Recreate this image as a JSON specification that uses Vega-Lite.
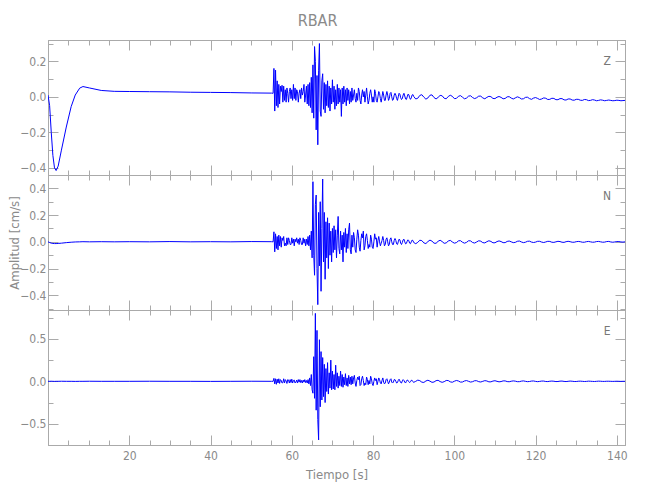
{
"$schema": "https://vega.github.io/schema/vega-lite/v6.json",
"background": "white",
"padding": {"left": 7, "top": 13, "right": 5, "bottom": 5},
"bounds": "flush",
"spacing": 0,
"title": {"text": "RBAR", "fontSize": 16, "offset": 10, "anchor": "middle", "color": "#8a8a8a", "fontWeight": "normal", "font": "DejaVu Sans Condensed, Liberation Sans, sans-serif"},
"datasets": {"seis": [
{"t":0,"z":0.01,"n":0,"e":0},
{"t":0.4,"z":-0.05,"n":-0.005,"e":0},
{"t":0.8,"z":-0.2,"n":-0.01,"e":0.001},
{"t":1.2,"z":-0.33,"n":-0.012,"e":0},
{"t":1.6,"z":-0.4,"n":-0.013,"e":-0.001},
{"t":2.0,"z":-0.415,"n":-0.013,"e":0},
{"t":2.5,"z":-0.39,"n":-0.012,"e":0},
{"t":3.3,"z":-0.3,"n":-0.01,"e":0.001},
{"t":4.5,"z":-0.17,"n":-0.006,"e":0},
{"t":5.7,"z":-0.055,"n":-0.003,"e":0},
{"t":6.7,"z":0.01,"n":-0.001,"e":-0.001},
{"t":7.8,"z":0.049,"n":0,"e":0},
{"t":8.6,"z":0.058,"n":0.001,"e":0},
{"t":10.2,"z":0.05,"n":0,"e":0.001},
{"t":13.1,"z":0.036,"n":0.001,"e":0},
{"t":16.3,"z":0.031,"n":0,"e":0},
{"t":20,"z":0.03,"n":0.001,"e":0},
{"t":25,"z":0.029,"n":0,"e":0.001},
{"t":30,"z":0.028,"n":0.002,"e":0},
{"t":35,"z":0.026,"n":0,"e":0},
{"t":40,"z":0.025,"n":0.001,"e":-0.001},
{"t":45,"z":0.024,"n":0,"e":0},
{"t":50,"z":0.022,"n":0.002,"e":0.001},
{"t":55,"z":0.021,"n":0.001,"e":0},
{"t":55.4,"z":0.02,"n":0,"e":0},
{"t":55.6,"z":0.16,"n":0.075,"e":0.035},
{"t":55.8,"z":-0.08,"n":-0.075,"e":-0.03},
{"t":56.0,"z":0.15,"n":0.06,"e":0.03},
{"t":56.2,"z":-0.05,"n":-0.05,"e":-0.035},
{"t":56.4,"z":0.09,"n":0.04,"e":0.025},
{"t":56.6,"z":-0.06,"n":-0.06,"e":-0.02},
{"t":56.8,"z":0.07,"n":0.05,"e":0.03},
{"t":57.0,"z":-0.04,"n":-0.03,"e":-0.025},
{"t":57.2,"z":0.06,"n":0.04,"e":0.02},
{"t":57.4,"z":0.03,"n":-0.04,"e":0.01},
{"t":57.6,"z":0.065,"n":0.03,"e":-0.02},
{"t":57.8,"z":-0.03,"n":0.01,"e":-0.015},
{"t":58.0,"z":0.06,"n":0.04,"e":0.03},
{"t":58.2,"z":-0.02,"n":-0.03,"e":-0.02},
{"t":58.4,"z":0.04,"n":-0.01,"e":0.02},
{"t":58.6,"z":-0.03,"n":-0.03,"e":0.005},
{"t":58.8,"z":0.05,"n":0.03,"e":-0.025},
{"t":59.0,"z":0.02,"n":-0.02,"e":0.02},
{"t":59.2,"z":-0.03,"n":0.03,"e":0.015},
{"t":59.4,"z":0.03,"n":0.01,"e":-0.02},
{"t":59.6,"z":0.05,"n":-0.02,"e":0.02},
{"t":59.8,"z":-0.01,"n":-0.02,"e":-0.015},
{"t":60.0,"z":0.04,"n":0.03,"e":0.025},
{"t":60.2,"z":-0.02,"n":-0.01,"e":-0.02},
{"t":60.4,"z":0.07,"n":0.02,"e":0.01},
{"t":60.6,"z":-0.01,"n":-0.03,"e":0.015},
{"t":60.8,"z":0.05,"n":0.02,"e":-0.02},
{"t":61.0,"z":-0.02,"n":0.0,"e":-0.01},
{"t":61.2,"z":0.04,"n":0.03,"e":0.015},
{"t":61.4,"z":0.03,"n":-0.01,"e":-0.02},
{"t":61.6,"z":-0.03,"n":0.02,"e":0.02},
{"t":61.8,"z":0.02,"n":-0.02,"e":-0.01},
{"t":62.0,"z":0.04,"n":0.03,"e":0.02},
{"t":62.2,"z":-0.01,"n":0.01,"e":-0.015},
{"t":62.4,"z":0.05,"n":-0.02,"e":0.01},
{"t":62.6,"z":0.01,"n":-0.02,"e":-0.02},
{"t":62.8,"z":0.03,"n":0.03,"e":0.015},
{"t":63.0,"z":0.07,"n":-0.01,"e":-0.01},
{"t":63.2,"z":-0.03,"n":0.02,"e":0.02},
{"t":63.4,"z":0.01,"n":-0.03,"e":-0.015},
{"t":63.6,"z":0.06,"n":0.02,"e":0.01},
{"t":63.8,"z":-0.04,"n":-0.02,"e":-0.02},
{"t":64.0,"z":0.07,"n":0.04,"e":0.02},
{"t":64.2,"z":-0.05,"n":-0.03,"e":-0.03},
{"t":64.4,"z":0.08,"n":0.05,"e":0.04},
{"t":64.6,"z":-0.06,"n":-0.06,"e":-0.05},
{"t":64.8,"z":0.11,"n":0.08,"e":0.08},
{"t":65.0,"z":-0.09,"n":-0.12,"e":-0.1},
{"t":65.2,"z":0.18,"n":0.45,"e":-0.14},
{"t":65.4,"z":-0.12,"n":-0.1,"e":0.29},
{"t":65.6,"z":0.283,"n":-0.25,"e":-0.2},
{"t":65.8,"z":0.2,"n":0.28,"e":0.8},
{"t":66.0,"z":-0.186,"n":0.35,"e":-0.34},
{"t":66.2,"z":0.12,"n":-0.2,"e":0.6},
{"t":66.4,"z":-0.27,"n":-0.47,"e":-0.45},
{"t":66.6,"z":0.15,"n":0.22,"e":-0.69},
{"t":66.8,"z":0.3,"n":-0.18,"e":0.49},
{"t":67.0,"z":-0.08,"n":0.3,"e":-0.3},
{"t":67.2,"z":-0.11,"n":-0.37,"e":0.35},
{"t":67.4,"z":0.09,"n":0.1,"e":-0.22},
{"t":67.6,"z":0.13,"n":0.47,"e":0.28},
{"t":67.8,"z":-0.07,"n":-0.15,"e":-0.18},
{"t":68.0,"z":0.08,"n":0.22,"e":0.2},
{"t":68.2,"z":-0.09,"n":-0.28,"e":-0.25},
{"t":68.4,"z":0.07,"n":0.15,"e":0.15},
{"t":68.6,"z":-0.05,"n":-0.12,"e":-0.12},
{"t":68.8,"z":0.09,"n":0.18,"e":0.22},
{"t":69.0,"z":-0.06,"n":-0.2,"e":-0.15},
{"t":69.2,"z":0.06,"n":0.14,"e":0.1},
{"t":69.4,"z":-0.08,"n":-0.1,"e":-0.08},
{"t":69.6,"z":0.05,"n":0.08,"e":0.25},
{"t":69.8,"z":-0.04,"n":-0.15,"e":-0.1},
{"t":70.0,"z":0.096,"n":0.1,"e":0.12},
{"t":70.2,"z":-0.03,"n":-0.08,"e":-0.09},
{"t":70.4,"z":0.06,"n":0.12,"e":0.08},
{"t":70.6,"z":-0.07,"n":-0.06,"e":-0.1},
{"t":70.8,"z":0.04,"n":0.09,"e":0.19},
{"t":71.0,"z":-0.05,"n":-0.12,"e":-0.06},
{"t":71.2,"z":0.07,"n":0.05,"e":0.1},
{"t":71.4,"z":-0.04,"n":0.19,"e":-0.08},
{"t":71.6,"z":0.05,"n":-0.05,"e":0.06},
{"t":71.8,"z":-0.03,"n":-0.09,"e":-0.05},
{"t":72.0,"z":0.04,"n":0.08,"e":0.12},
{"t":72.2,"z":-0.11,"n":-0.06,"e":-0.06},
{"t":72.4,"z":0.05,"n":0.05,"e":0.08},
{"t":72.6,"z":-0.04,"n":-0.15,"e":-0.07},
{"t":72.8,"z":0.06,"n":0.07,"e":0.05},
{"t":73.0,"z":-0.03,"n":-0.04,"e":-0.04},
{"t":73.2,"z":0.04,"n":0.1,"e":0.09},
{"t":73.4,"z":-0.05,"n":-0.08,"e":-0.05},
{"t":73.6,"z":0.05,"n":0.06,"e":0.04},
{"t":73.8,"z":-0.02,"n":-0.05,"e":-0.06},
{"t":74.0,"z":0.04,"n":0.09,"e":0.07},
{"t":74.2,"z":-0.04,"n":0.14,"e":-0.03},
{"t":74.4,"z":0.03,"n":-0.06,"e":0.05},
{"t":74.6,"z":-0.03,"n":-0.09,"e":-0.04},
{"t":74.8,"z":0.05,"n":0.05,"e":0.06},
{"t":75.0,"z":-0.02,"n":-0.04,"e":-0.03},
{"t":75.2,"z":0.01,"n":0.07,"e":0.04},
{"t":75.4,"z":0.04,"n":0.03,"e":0.07},
{"t":75.6,"z":-0.01,"n":-0.06,"e":-0.02},
{"t":75.8,"z":-0.03,"n":-0.08,"e":-0.06},
{"t":76.0,"z":0.02,"n":0.02,"e":0.01},
{"t":76.2,"z":-0.02,"n":0.09,"e":0.05},
{"t":76.4,"z":0.05,"n":0.05,"e":0.02},
{"t":76.6,"z":0.03,"n":-0.04,"e":0.06},
{"t":76.8,"z":-0.02,"n":-0.07,"e":-0.05},
{"t":77.0,"z":-0.04,"n":0.01,"e":-0.04},
{"t":77.2,"z":0.01,"n":0.06,"e":0.03},
{"t":77.4,"z":0.04,"n":0.03,"e":0.06},
{"t":77.6,"z":0.0,"n":0.08,"e":0.01},
{"t":77.8,"z":0.03,"n":-0.06,"e":-0.05},
{"t":78.0,"z":-0.03,"n":-0.03,"e":-0.02},
{"t":78.2,"z":0.01,"n":0.04,"e":-0.04},
{"t":78.4,"z":0.05,"n":0.06,"e":0.05},
{"t":78.6,"z":0.0,"n":0.01,"e":0.02},
{"t":78.8,"z":-0.04,"n":-0.05,"e":-0.04},
{"t":79.0,"z":-0.02,"n":-0.02,"e":0.01},
{"t":79.2,"z":0.02,"n":-0.04,"e":-0.03},
{"t":79.4,"z":0.04,"n":0.05,"e":0.06},
{"t":79.6,"z":0.01,"n":0.02,"e":0.03},
{"t":79.8,"z":-0.03,"n":-0.04,"e":-0.03},
{"t":80.0,"z":0.0,"n":-0.05,"e":-0.05},
{"t":80.2,"z":-0.03,"n":0.0,"e":0.0},
{"t":80.4,"z":0.04,"n":0.06,"e":0.04},
{"t":80.6,"z":0.02,"n":0.02,"e":0.01},
{"t":80.8,"z":-0.02,"n":0.03,"e":0.03},
{"t":81.0,"z":-0.03,"n":-0.04,"e":-0.04},
{"t":81.2,"z":0.0,"n":0.01,"e":0.0},
{"t":81.4,"z":0.03,"n":0.04,"e":0.04},
{"t":81.6,"z":0.02,"n":0.0,"e":0.02},
{"t":81.8,"z":-0.01,"n":-0.03,"e":-0.02},
{"t":82.0,"z":-0.03,"n":-0.01,"e":-0.03},
{"t":82.2,"z":0.0,"n":0.01,"e":0.01},
{"t":82.4,"z":0.03,"n":0.04,"e":0.04},
{"t":82.6,"z":0.01,"n":0.01,"e":-0.01},
{"t":82.8,"z":-0.02,"n":-0.03,"e":-0.03},
{"t":83.0,"z":-0.02,"n":-0.02,"e":-0.02},
{"t":83.2,"z":0.01,"n":0.02,"e":0.02},
{"t":83.4,"z":0.03,"n":0.03,"e":0.03},
{"t":83.6,"z":0.01,"n":0.0,"e":0.0},
{"t":83.8,"z":-0.02,"n":-0.03,"e":-0.03},
{"t":84.0,"z":-0.01,"n":-0.02,"e":-0.01},
{"t":84.2,"z":0.02,"n":0.02,"e":0.02},
{"t":84.4,"z":0.025,"n":0.03,"e":0.03},
{"t":84.6,"z":0.0,"n":0.0,"e":-0.01},
{"t":84.8,"z":-0.02,"n":-0.02,"e":-0.02},
{"t":85.0,"z":-0.015,"n":-0.02,"e":-0.01},
{"t":85.2,"z":0.01,"n":0.01,"e":0.02},
{"t":85.4,"z":0.02,"n":0.025,"e":0.02},
{"t":85.6,"z":0.01,"n":0.01,"e":0.0},
{"t":85.8,"z":-0.01,"n":-0.015,"e":-0.02},
{"t":86.0,"z":-0.02,"n":-0.02,"e":-0.015},
{"t":86.2,"z":0.0,"n":0.0,"e":0.01},
{"t":86.4,"z":0.02,"n":0.02,"e":0.025},
{"t":86.6,"z":0.015,"n":0.015,"e":0.005},
{"t":86.8,"z":-0.005,"n":-0.01,"e":-0.015},
{"t":87.0,"z":-0.015,"n":-0.02,"e":-0.02},
{"t":87.2,"z":-0.01,"n":-0.005,"e":0.005},
{"t":87.4,"z":0.01,"n":0.015,"e":0.02},
{"t":87.6,"z":0.02,"n":0.02,"e":0.01},
{"t":87.8,"z":0.005,"n":0.0,"e":-0.01},
{"t":88.0,"z":-0.012,"n":-0.015,"e":-0.02},
{"t":88.2,"z":-0.015,"n":-0.012,"e":0.0},
{"t":88.4,"z":0.0,"n":0.005,"e":0.015},
{"t":88.6,"z":0.015,"n":0.015,"e":0.012},
{"t":88.8,"z":0.012,"n":0.008,"e":-0.005},
{"t":89.0,"z":-0.005,"n":-0.01,"e":-0.015},
{"t":89.2,"z":-0.014,"n":-0.014,"e":-0.005},
{"t":89.4,"z":-0.006,"n":0.0,"e":0.012},
{"t":89.6,"z":0.01,"n":0.013,"e":0.012},
{"t":89.8,"z":0.013,"n":0.01,"e":-0.004},
{"t":90.0,"z":0.002,"n":-0.005,"e":-0.012},
{"t":90.5,"z":-0.012,"n":-0.014,"e":0.0},
{"t":91.0,"z":-0.008,"n":-0.004,"e":0.014},
{"t":91.5,"z":0.008,"n":0.012,"e":0.008},
{"t":92.0,"z":0.012,"n":0.009,"e":-0.01},
{"t":92.5,"z":-0.002,"n":-0.008,"e":-0.013},
{"t":93.0,"z":-0.013,"n":-0.013,"e":0.004},
{"t":93.5,"z":-0.006,"n":0.002,"e":0.013},
{"t":94.0,"z":0.009,"n":0.013,"e":0.002},
{"t":94.5,"z":0.011,"n":0.005,"e":-0.012},
{"t":95.0,"z":-0.004,"n":-0.01,"e":-0.008},
{"t":95.5,"z":-0.012,"n":-0.011,"e":0.008},
{"t":96.0,"z":-0.003,"n":0.004,"e":0.012},
{"t":96.5,"z":0.008,"n":0.012,"e":-0.003},
{"t":97.0,"z":0.006,"n":0.002,"e":-0.012},
{"t":97.5,"z":-0.008,"n":-0.011,"e":-0.004},
{"t":98.0,"z":-0.011,"n":-0.008,"e":0.01},
{"t":98.5,"z":0.002,"n":0.006,"e":0.009},
{"t":99.0,"z":0.009,"n":0.011,"e":-0.006},
{"t":99.5,"z":0.003,"n":-0.001,"e":-0.011},
{"t":100.0,"z":-0.01,"n":-0.01,"e":0.001},
{"t":100.5,"z":-0.009,"n":-0.006,"e":0.01},
{"t":101.0,"z":0.003,"n":0.007,"e":0.004},
{"t":101.5,"z":0.007,"n":0.009,"e":-0.009},
{"t":102.0,"z":-0.002,"n":-0.003,"e":-0.008},
{"t":102.5,"z":-0.011,"n":-0.01,"e":0.004},
{"t":103.0,"z":-0.007,"n":-0.004,"e":0.009},
{"t":103.5,"z":0.004,"n":0.008,"e":0.0},
{"t":104.0,"z":0.006,"n":0.007,"e":-0.009},
{"t":104.5,"z":-0.004,"n":-0.005,"e":-0.004},
{"t":105.0,"z":-0.01,"n":-0.009,"e":0.007},
{"t":105.5,"z":-0.005,"n":-0.001,"e":0.007},
{"t":106.0,"z":0.004,"n":0.008,"e":-0.004},
{"t":106.5,"z":0.004,"n":0.005,"e":-0.008},
{"t":107.0,"z":-0.006,"n":-0.006,"e":0.0},
{"t":107.5,"z":-0.011,"n":-0.008,"e":0.008},
{"t":108.0,"z":-0.003,"n":0.001,"e":0.004},
{"t":108.5,"z":0.003,"n":0.008,"e":-0.006},
{"t":109.0,"z":0.001,"n":0.003,"e":-0.006},
{"t":109.5,"z":-0.009,"n":-0.007,"e":0.003},
{"t":110.0,"z":-0.01,"n":-0.007,"e":0.007},
{"t":110.5,"z":-0.002,"n":0.002,"e":0.0},
{"t":111.0,"z":0.002,"n":0.007,"e":-0.006},
{"t":111.5,"z":-0.003,"n":0.002,"e":-0.003},
{"t":112.0,"z":-0.011,"n":-0.006,"e":0.005},
{"t":112.5,"z":-0.009,"n":-0.006,"e":0.005},
{"t":113.0,"z":0.0,"n":0.003,"e":-0.003},
{"t":113.5,"z":0.001,"n":0.006,"e":-0.005},
{"t":114.0,"z":-0.007,"n":0.0,"e":0.001},
{"t":114.5,"z":-0.012,"n":-0.006,"e":0.005},
{"t":115.0,"z":-0.006,"n":-0.004,"e":0.002},
{"t":115.5,"z":0.0,"n":0.004,"e":-0.004},
{"t":116.0,"z":-0.004,"n":0.006,"e":-0.004},
{"t":116.5,"z":-0.012,"n":-0.001,"e":0.002},
{"t":117.0,"z":-0.011,"n":-0.006,"e":0.005},
{"t":117.5,"z":-0.003,"n":-0.003,"e":0.0},
{"t":118.0,"z":-0.002,"n":0.004,"e":-0.004},
{"t":118.5,"z":-0.01,"n":0.005,"e":-0.002},
{"t":119.0,"z":-0.014,"n":-0.002,"e":0.003},
{"t":119.5,"z":-0.007,"n":-0.005,"e":0.004},
{"t":120.0,"z":-0.004,"n":-0.002,"e":-0.001},
{"t":120.5,"z":-0.009,"n":0.004,"e":-0.004},
{"t":121.0,"z":-0.015,"n":0.004,"e":-0.001},
{"t":121.5,"z":-0.012,"n":-0.002,"e":0.003},
{"t":122.0,"z":-0.006,"n":-0.005,"e":0.003},
{"t":122.5,"z":-0.008,"n":-0.001,"e":-0.002},
{"t":123.0,"z":-0.015,"n":0.004,"e":-0.003},
{"t":123.5,"z":-0.014,"n":0.003,"e":0.001},
{"t":124.0,"z":-0.008,"n":-0.003,"e":0.003},
{"t":124.5,"z":-0.009,"n":-0.004,"e":0.001},
{"t":125.0,"z":-0.016,"n":0.0,"e":-0.003},
{"t":125.5,"z":-0.016,"n":0.004,"e":-0.002},
{"t":126.0,"z":-0.01,"n":0.002,"e":0.002},
{"t":126.5,"z":-0.01,"n":-0.003,"e":0.003},
{"t":127.0,"z":-0.017,"n":-0.004,"e":-0.001},
{"t":127.5,"z":-0.018,"n":0.001,"e":-0.003},
{"t":128.0,"z":-0.012,"n":0.004,"e":0.0},
{"t":128.5,"z":-0.012,"n":0.001,"e":0.003},
{"t":129.0,"z":-0.018,"n":-0.003,"e":0.001},
{"t":129.5,"z":-0.019,"n":-0.003,"e":-0.002},
{"t":130.0,"z":-0.014,"n":0.001,"e":-0.002},
{"t":130.5,"z":-0.014,"n":0.003,"e":0.001},
{"t":131.0,"z":-0.019,"n":0.001,"e":0.002},
{"t":131.5,"z":-0.02,"n":-0.003,"e":0.0},
{"t":132.0,"z":-0.015,"n":-0.003,"e":-0.002},
{"t":132.5,"z":-0.016,"n":0.001,"e":-0.001},
{"t":133.0,"z":-0.021,"n":0.003,"e":0.002},
{"t":133.5,"z":-0.02,"n":0.0,"e":0.001},
{"t":134.0,"z":-0.016,"n":-0.003,"e":-0.001},
{"t":134.5,"z":-0.018,"n":-0.002,"e":-0.002},
{"t":135.0,"z":-0.022,"n":0.002,"e":0.0},
{"t":135.5,"z":-0.02,"n":0.003,"e":0.002},
{"t":136.0,"z":-0.017,"n":0.0,"e":0.001},
{"t":136.5,"z":-0.019,"n":-0.003,"e":-0.001},
{"t":137.0,"z":-0.022,"n":-0.002,"e":-0.001},
{"t":137.5,"z":-0.02,"n":0.002,"e":0.001},
{"t":138.0,"z":-0.018,"n":0.003,"e":0.001},
{"t":138.5,"z":-0.02,"n":-0.001,"e":0.0},
{"t":139.0,"z":-0.022,"n":-0.003,"e":-0.001},
{"t":139.5,"z":-0.021,"n":-0.001,"e":0.0},
{"t":140.0,"z":-0.019,"n":0.002,"e":0.001},
{"t":140.5,"z":-0.02,"n":0.002,"e":0.0},
{"t":141.0,"z":-0.022,"n":-0.001,"e":-0.001},
{"t":141.5,"z":-0.021,"n":-0.002,"e":0.0},
{"t":142.0,"z":-0.02,"n":0.0,"e":0.0}
]},
"vconcat": [
{
 "width": 577, "height": 135,
 "layer": [
  {"data": {"name": "seis"}, "mark": {"type": "line", "color": "#0000ff", "strokeWidth": 1, "clip": true},
   "encoding": {
    "x": {"field": "t", "type": "quantitative", "scale": {"domain": [0, 142], "nice": false, "zero": false},
          "axis": {"orient": "bottom", "values": [20,40,60,80,100,120,140], "tickSize": -10, "labels": false, "title": null}},
    "y": {"field": "z", "type": "quantitative", "scale": {"domain": [-0.44, 0.32], "nice": false, "zero": false},
          "axis": {"orient": "left", "values": [-0.4,-0.2,0,0.2], "format": ".1f", "tickSize": -10, "labelPadding": 12, "title": null}}
   }},
  {"data": {"values": [{"label": "Z"}]}, "mark": {"type": "text", "color": "#777777", "fontSize": 12, "font": "DejaVu Sans Condensed, Liberation Sans, sans-serif"},
   "encoding": {
    "text": {"field": "label"},
    "x": {"datum": 137.6, "type": "quantitative", "axis": {"orient": "top", "values": [20,40,60,80,100,120,140], "tickSize": -10, "labels": false, "title": null}},
    "y": {"datum": 0.2, "type": "quantitative", "axis": {"orient": "right", "values": [-0.4,-0.2,0,0.2], "tickSize": -10, "labels": false, "title": null}}
   }},
  {"data": {"values": [{"k": 1}]}, "mark": {"type": "point", "opacity": 0},
   "encoding": {
    "x": {"datum": 70, "type": "quantitative", "axis": {"orient": "bottom", "values": [5,10,15,20,25,30,35,40,45,50,55,60,65,70,75,80,85,90,95,100,105,110,115,120,125,130,135,140], "tickSize": -5, "labels": false, "title": null}},
    "y": {"datum": 0, "type": "quantitative", "axis": {"orient": "left", "values": [-0.4,-0.3,-0.2,-0.1,0,0.1,0.2,0.3], "tickSize": -5, "labels": false, "title": null}}
   }},
  {"data": {"values": [{"k": 1}]}, "mark": {"type": "point", "opacity": 0},
   "encoding": {
    "x": {"datum": 70, "type": "quantitative", "axis": {"orient": "top", "values": [5,10,15,20,25,30,35,40,45,50,55,60,65,70,75,80,85,90,95,100,105,110,115,120,125,130,135,140], "tickSize": -5, "labels": false, "title": null}},
    "y": {"datum": 0, "type": "quantitative", "axis": {"orient": "right", "values": [-0.4,-0.3,-0.2,-0.1,0,0.1,0.2,0.3], "tickSize": -5, "labels": false, "title": null}}
   }}
 ],
 "resolve": {"axis": {"x": "independent", "y": "independent"}}
},
{
 "width": 577, "height": 135,
 "layer": [
  {"data": {"name": "seis"}, "mark": {"type": "line", "color": "#0000ff", "strokeWidth": 1, "clip": true},
   "encoding": {
    "x": {"field": "t", "type": "quantitative", "scale": {"domain": [0, 142], "nice": false, "zero": false},
          "axis": {"orient": "bottom", "values": [20,40,60,80,100,120,140], "tickSize": -10, "labels": false, "title": null}},
    "y": {"field": "n", "type": "quantitative", "scale": {"domain": [-0.51, 0.5], "nice": false, "zero": false},
          "axis": {"orient": "left", "values": [-0.4,-0.2,0,0.2,0.4], "format": ".1f", "tickSize": -10, "labelPadding": 12, "title": "Amplitud [cm/s]", "titleX": -34, "titleY": 67.5, "titleAngle": 270, "titleAlign": "center", "titleBaseline": "middle"}}
   }},
  {"data": {"values": [{"label": "N"}]}, "mark": {"type": "text", "color": "#777777", "fontSize": 12, "font": "DejaVu Sans Condensed, Liberation Sans, sans-serif"},
   "encoding": {
    "text": {"field": "label"},
    "x": {"datum": 137.6, "type": "quantitative", "axis": {"orient": "top", "values": [20,40,60,80,100,120,140], "tickSize": -10, "labels": false, "title": null}},
    "y": {"datum": 0.34, "type": "quantitative", "axis": {"orient": "right", "values": [-0.4,-0.2,0,0.2,0.4], "tickSize": -10, "labels": false, "title": null}}
   }},
  {"data": {"values": [{"k": 1}]}, "mark": {"type": "point", "opacity": 0},
   "encoding": {
    "x": {"datum": 70, "type": "quantitative", "axis": {"orient": "bottom", "values": [5,10,15,20,25,30,35,40,45,50,55,60,65,70,75,80,85,90,95,100,105,110,115,120,125,130,135,140], "tickSize": -5, "labels": false, "title": null}},
    "y": {"datum": 0, "type": "quantitative", "axis": {"orient": "left", "values": [-0.5,-0.4,-0.3,-0.2,-0.1,0,0.1,0.2,0.3,0.4,0.5], "tickSize": -5, "labels": false, "title": null}}
   }},
  {"data": {"values": [{"k": 1}]}, "mark": {"type": "point", "opacity": 0},
   "encoding": {
    "x": {"datum": 70, "type": "quantitative", "axis": {"orient": "top", "values": [5,10,15,20,25,30,35,40,45,50,55,60,65,70,75,80,85,90,95,100,105,110,115,120,125,130,135,140], "tickSize": -5, "labels": false, "title": null}},
    "y": {"datum": 0, "type": "quantitative", "axis": {"orient": "right", "values": [-0.5,-0.4,-0.3,-0.2,-0.1,0,0.1,0.2,0.3,0.4,0.5], "tickSize": -5, "labels": false, "title": null}}
   }}
 ],
 "resolve": {"axis": {"x": "independent", "y": "independent"}}
},
{
 "width": 577, "height": 135,
 "layer": [
  {"data": {"name": "seis"}, "mark": {"type": "line", "color": "#0000ff", "strokeWidth": 1, "clip": true},
   "encoding": {
    "x": {"field": "t", "type": "quantitative", "scale": {"domain": [0, 142], "nice": false, "zero": false},
          "axis": {"orient": "bottom", "values": [20,40,60,80,100,120,140], "format": "d", "tickSize": -10, "labelPadding": 15, "title": "Tiempo [s]", "titlePadding": 7}},
    "y": {"field": "e", "type": "quantitative", "scale": {"domain": [-0.75, 0.84], "nice": false, "zero": false},
          "axis": {"orient": "left", "values": [-0.5,0,0.5], "format": ".1f", "tickSize": -10, "labelPadding": 12, "title": null}}
   }},
  {"data": {"values": [{"label": "E"}]}, "mark": {"type": "text", "color": "#777777", "fontSize": 12, "font": "DejaVu Sans Condensed, Liberation Sans, sans-serif"},
   "encoding": {
    "text": {"field": "label"},
    "x": {"datum": 137.6, "type": "quantitative", "axis": {"orient": "top", "values": [20,40,60,80,100,120,140], "tickSize": -10, "labels": false, "title": null}},
    "y": {"datum": 0.59, "type": "quantitative", "axis": {"orient": "right", "values": [-0.5,0,0.5], "tickSize": -10, "labels": false, "title": null}}
   }},
  {"data": {"values": [{"k": 1}]}, "mark": {"type": "point", "opacity": 0},
   "encoding": {
    "x": {"datum": 70, "type": "quantitative", "axis": {"orient": "bottom", "values": [5,10,15,20,25,30,35,40,45,50,55,60,65,70,75,80,85,90,95,100,105,110,115,120,125,130,135,140], "tickSize": -5, "labels": false, "title": null}},
    "y": {"datum": 0, "type": "quantitative", "axis": {"orient": "left", "values": [-0.5,-0.25,0,0.25,0.5,0.75], "tickSize": -5, "labels": false, "title": null}}
   }},
  {"data": {"values": [{"k": 1}]}, "mark": {"type": "point", "opacity": 0},
   "encoding": {
    "x": {"datum": 70, "type": "quantitative", "axis": {"orient": "top", "values": [5,10,15,20,25,30,35,40,45,50,55,60,65,70,75,80,85,90,95,100,105,110,115,120,125,130,135,140], "tickSize": -5, "labels": false, "title": null}},
    "y": {"datum": 0, "type": "quantitative", "axis": {"orient": "right", "values": [-0.5,-0.25,0,0.25,0.5,0.75], "tickSize": -5, "labels": false, "title": null}}
   }}
 ],
 "resolve": {"axis": {"x": "independent", "y": "independent"}}
}
],
"config": {
 "view": {"stroke": "#aaaaaa", "strokeWidth": 1},
 "axis": {"domainColor": "#aaaaaa", "tickColor": "#aaaaaa", "labelColor": "#8a8a8a", "titleColor": "#8a8a8a",
          "labelFont": "DejaVu Sans Condensed, Liberation Sans, sans-serif",
          "titleFont": "DejaVu Sans Condensed, Liberation Sans, sans-serif",
          "labelFontSize": 12, "titleFontSize": 13, "titleFontWeight": "normal", "grid": false, "tickWidth": 1, "domainWidth": 1}
}
}
